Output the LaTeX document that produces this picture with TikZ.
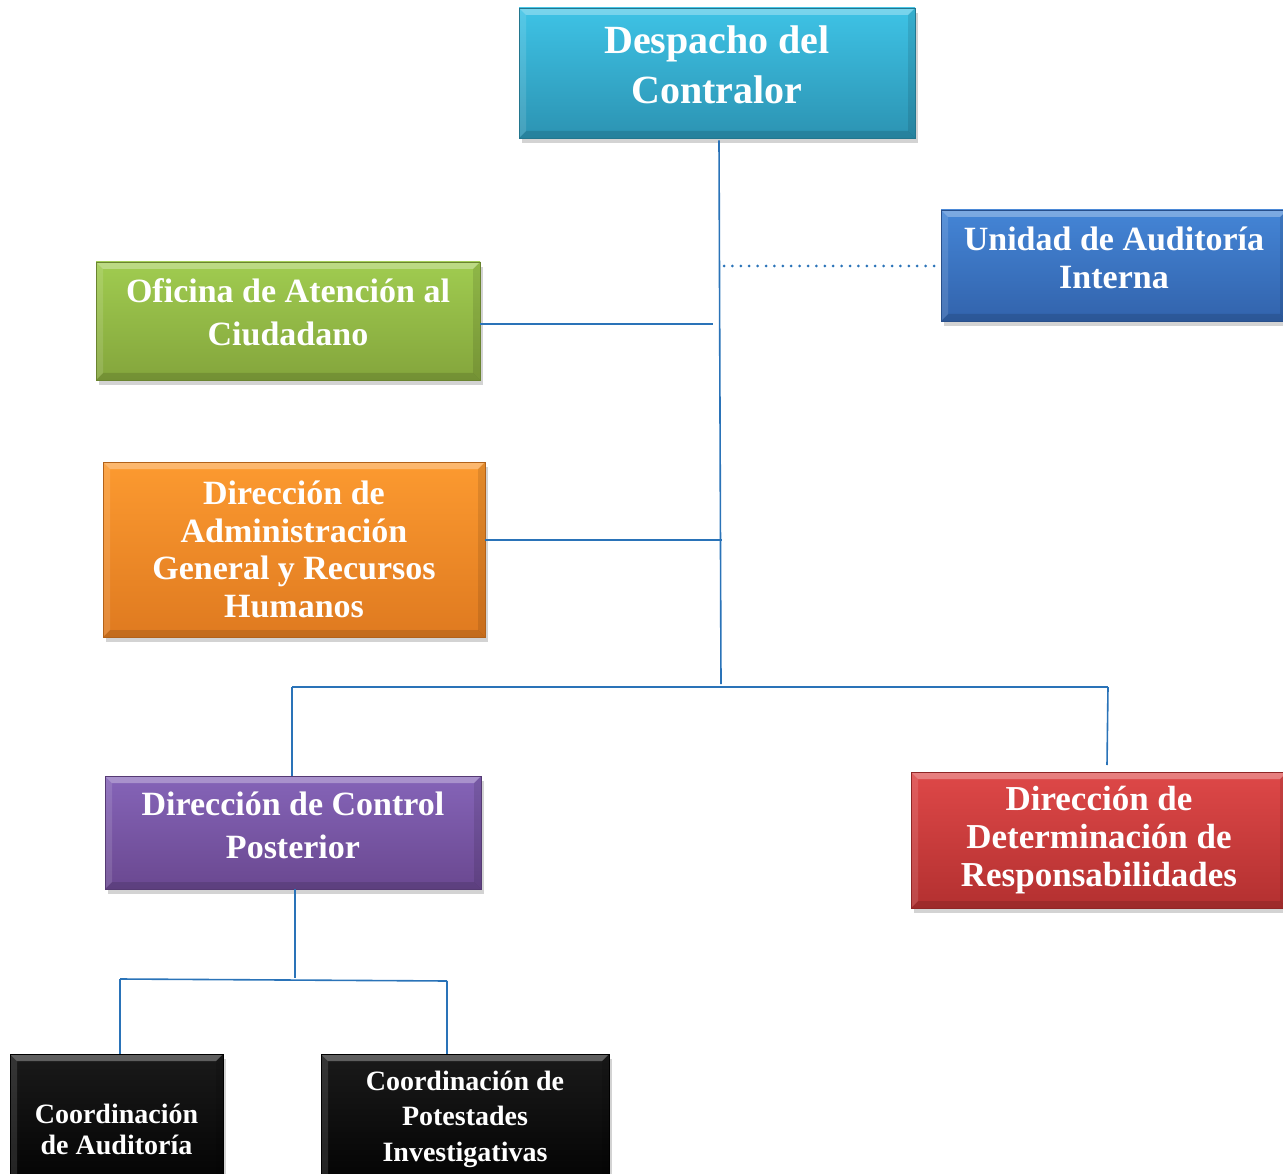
\documentclass[tikz,border=0pt]{standalone}
\usepackage{fontspec}
\setmainfont{Liberation Serif}
\usetikzlibrary{shadows, calc}

\definecolor{linea}{HTML}{2A73B8}
\definecolor{cianA}{HTML}{3EC3E6}  \definecolor{cianB}{HTML}{2C93B2}
\definecolor{azulA}{HTML}{4485D6}  \definecolor{azulB}{HTML}{3263AC}
\definecolor{verdeA}{HTML}{A0CC50} \definecolor{verdeB}{HTML}{84A53C}
\definecolor{narA}{HTML}{FC9A30}   \definecolor{narB}{HTML}{DF7A20}
\definecolor{moradoA}{HTML}{8564B8}\definecolor{moradoB}{HTML}{6A4890}
\definecolor{rojoA}{HTML}{DE4848}  \definecolor{rojoB}{HTML}{B33030}
\definecolor{negroA}{HTML}{1A1A1A} \definecolor{negroB}{HTML}{000000}
\tikzset{
    caja/.style={rectangle, top color=#1A, bottom color=#1B, draw=#1B!80!black,
        line width=0.6pt, text=white, align=center, font=\bfseries,
        drop shadow={shadow xshift=3pt, shadow yshift=-5pt, opacity=0.35},
        path picture={
            \coordinate (nw) at (path picture bounding box.north west);
            \coordinate (ne) at (path picture bounding box.north east);
            \coordinate (sw) at (path picture bounding box.south west);
            \coordinate (se) at (path picture bounding box.south east);
            \fill[white, opacity=0.3] (nw) -- (ne) -- ($(ne)+(-7pt,-7pt)$) -- ($(nw)+(7pt,-7pt)$) -- cycle;
            \fill[black, opacity=0.12] (sw) -- (se) -- ($(se)+(-7pt,7pt)$) -- ($(sw)+(7pt,7pt)$) -- cycle;
            \fill[white, opacity=0.12] (nw) -- (sw) -- ($(sw)+(7pt,7pt)$) -- ($(nw)+(7pt,-7pt)$) -- cycle;
            \fill[black, opacity=0.1] (ne) -- (se) -- ($(se)+(-7pt,7pt)$) -- ($(ne)+(-7pt,-7pt)$) -- cycle;
        }},
    conector/.style={draw=linea, line width=1.6pt},
    punteado/.style={draw=linea, line width=3pt, line cap=round, dash pattern=on 0pt off 8.4pt},
}

\begin{document}
\begin{tikzpicture}[x=1pt, y=-1pt]
    \useasboundingbox (0,0) rectangle (1283,1174);

    % nivel superior
    \node[caja=cian, minimum width=396, minimum height=130, text depth=16pt,
          font=\bfseries\fontsize{40}{50}\selectfont] (despacho) at (717,73)
        {Despacho del\\Contralor};
    \node[caja=azul, minimum width=346, minimum height=111, text depth=16pt,
          font=\bfseries\fontsize{34}{38}\selectfont] (unidad) at (1114,265.5)
        {Unidad de Auditoría\\Interna};

    % staff
    \node[caja=verde, minimum width=384, minimum height=118, text depth=18pt,
          font=\bfseries\fontsize{34}{43}\selectfont] (oficina) at (288,321)
        {Oficina de Atención al\\Ciudadano};
    \node[caja=nar, minimum width=382, minimum height=175,
          font=\bfseries\fontsize{34}{37.5}\selectfont] (admin) at (294,549.5)
        {Dirección de\\Administración\\General y Recursos\\Humanos};

    % direcciones de linea
    \node[caja=morado, minimum width=376, minimum height=113, text depth=14pt,
          font=\bfseries\fontsize{34}{43}\selectfont] (control) at (293,832.5)
        {Dirección de Control\\Posterior};
    \node[caja=rojo, minimum width=376, minimum height=136,
          font=\bfseries\fontsize{35}{38}\selectfont] (determ) at (1099,840)
        {Dirección de\\Determinación de\\Responsabilidades};

    % coordinaciones
    \node[caja=negro, minimum width=213, minimum height=150,
          font=\bfseries\fontsize{28}{31}\selectfont] (coordA) at (116.5,1129)
        {Coordinación\\de Auditoría};
    \node[caja=negro, minimum width=288, minimum height=150, text depth=26pt,
          font=\bfseries\fontsize{28}{35.5}\selectfont] (coordP) at (465,1129)
        {Coordinación de\\Potestades\\Investigativas};

    % puntos de union
    \coordinate (tronco) at (721,684);
    \coordinate (barraI) at (292,687);
    \coordinate (barraD) at (1108,687);
    \coordinate (detTop) at (1107,765);
    \coordinate (ofiFin) at (713,324);
    \coordinate (admFin) at (722,540);
    \coordinate (ctrlBaja) at (295,978);
    \coordinate (coordI) at (120,979);
    \coordinate (coordD) at (447,981);
    \coordinate (puntoIni) at (724,266);

    \draw[conector] ($(despacho.south)+(2,2)$) -- (tronco);
    \draw[punteado] (puntoIni) -- (unidad.west |- puntoIni);
    \draw[conector] (oficina.east |- ofiFin) -- (ofiFin);
    \draw[conector] (admin.east |- admFin) -- (admFin);
    \draw[conector] (barraI) -- (barraD);
    \draw[conector] (control.north -| barraI) -- (barraI);
    \draw[conector] (barraD) -- (detTop);
    \draw[conector] (control.south -| ctrlBaja) -- (ctrlBaja);
    \draw[conector] (coordI) -- (coordD);
    \draw[conector] (coordI) -- (coordA.north -| coordI);
    \draw[conector] (coordD) -- (coordP.north -| coordD);
\end{tikzpicture}
\end{document}
